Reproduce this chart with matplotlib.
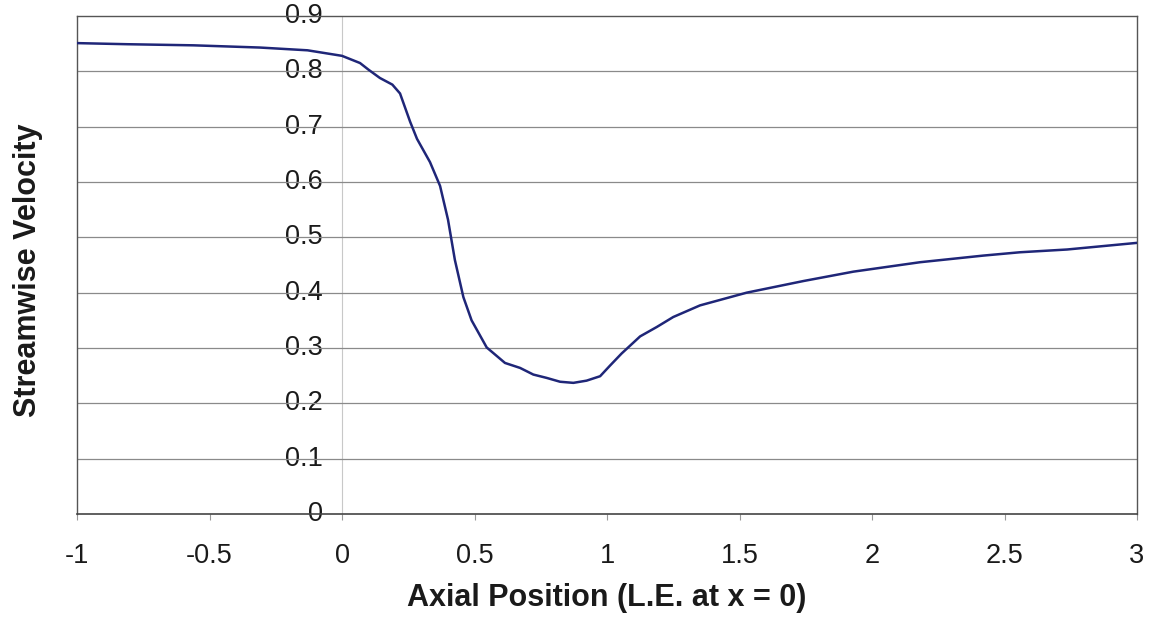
import matplotlib
matplotlib.use("Agg")
import matplotlib.pyplot as plt

# Data
axial_position = [-1.0, -0.81, -0.56, -0.31, -0.13, 0.0, 0.068, 0.10, 0.143, 0.19, 0.219,
                  0.257, 0.283, 0.332, 0.37, 0.40, 0.426, 0.458, 0.489, 0.546, 0.615,
                  0.672, 0.722, 0.772, 0.823, 0.873, 0.923, 0.974, 1.011, 1.055, 1.125,
                  1.188, 1.25, 1.351, 1.527, 1.741, 1.93, 2.181, 2.42, 2.558, 2.736, 3.0]
streamwise_velocity = [0.851, 0.849, 0.847, 0.843, 0.838, 0.828, 0.815, 0.803, 0.788, 0.776, 0.760,
                       0.709, 0.678, 0.636, 0.593, 0.532, 0.459, 0.392, 0.350, 0.301, 0.273,
                       0.264, 0.252, 0.246, 0.239, 0.237, 0.241, 0.249, 0.268, 0.290, 0.321,
                       0.338, 0.356, 0.377, 0.400, 0.421, 0.438, 0.455, 0.467, 0.473, 0.478, 0.490]
x_ticks = [-1, -0.5, 0, 0.5, 1, 1.5, 2, 2.5, 3]
x_tick_labels = ["-1", "-0.5", "0", "0.5", "1", "1.5", "2", "2.5", "3"]
y_ticks = [0, 0.1, 0.2, 0.3, 0.4, 0.5, 0.6, 0.7, 0.8, 0.9]
y_tick_labels = ["0", "0.1", "0.2", "0.3", "0.4", "0.5", "0.6", "0.7", "0.8", "0.9"]
x_label = "Axial Position (L.E. at x = 0)"
y_label = "Streamwise Velocity"

plt.rcParams['font.family'] = ['Liberation Sans', 'DejaVu Sans']

fig = plt.figure(figsize=(11.61, 6.22), dpi=100)
ax = fig.add_axes([77/1161, 108/622, 1060/1161, 498/622])
ax.set_xlim(-1, 3)
ax.set_ylim(0, 0.9)

# gridlines
for v in y_ticks[1:-1]:
    ax.axhline(v, color="#8a8a8a", lw=0.9, zorder=2)
# y value axis at x = 0
ax.axvline(0, color="#c8c8c8", lw=0.8, zorder=1.5)

for side in ["left", "right", "top"]:
    ax.spines[side].set_color("#555555")
    ax.spines[side].set_linewidth(1.0)
ax.spines["bottom"].set_color("#444444")
ax.spines["bottom"].set_linewidth(1.2)
for s in ax.spines.values():
    s.set_zorder(3)

ax.plot(axial_position, streamwise_velocity, color="#1f2678", lw=1.8, zorder=4,
        solid_joinstyle="round")

ax.set_xticks(x_ticks)
ax.set_xticklabels(x_tick_labels, fontsize=19.5, color="#1a1a1a")
ax.tick_params(axis="x", direction="out", length=4, color="#999999", pad=17)
ax.set_yticks([])

# y tick labels next to the value axis at x = 0
for v, lab in zip(y_ticks, y_tick_labels):
    ax.annotate(lab, xy=(0, v), xycoords="data", xytext=(-14, 0),
                textcoords="offset points", ha="right", va="center",
                fontsize=19.5, color="#1a1a1a", zorder=1, annotation_clip=False)

ax.set_xlabel(x_label, fontsize=22, fontweight="bold", labelpad=10, color="#1a1a1a")
fig.text(28/1161, 1 - 270/622, y_label, rotation=90, fontsize=22,
         fontweight="bold", ha="center", va="center", color="#1a1a1a")

fig.savefig("out.png", dpi=100)
